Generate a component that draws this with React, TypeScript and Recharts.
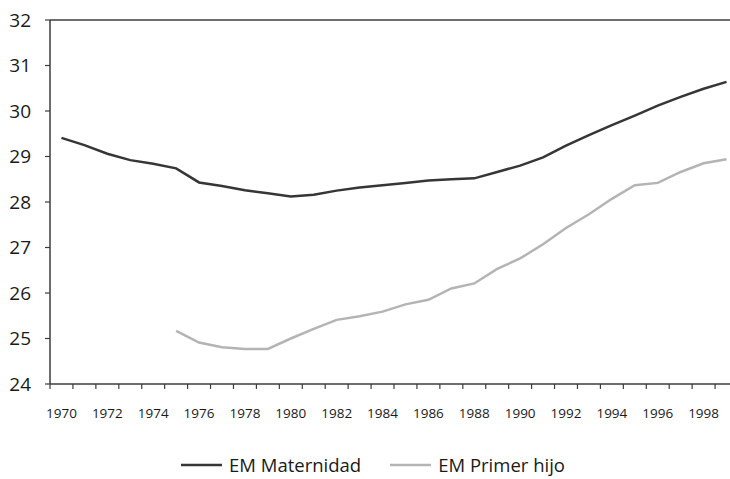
import { CartesianGrid, Legend, Line, LineChart, ReferenceLine, XAxis, YAxis } from 'recharts';

const years = [
  1970, 1971, 1972, 1973, 1974, 1975, 1976, 1977, 1978, 1979,
  1980, 1981, 1982, 1983, 1984, 1985, 1986, 1987, 1988, 1989,
  1990, 1991, 1992, 1993, 1994, 1995, 1996, 1997, 1998, 1999,
];

const emMaternidad = [
  29.41, 29.25, 29.06, 28.92, 28.84, 28.74, 28.43, 28.35, 28.26, 28.19,
  28.12, 28.16, 28.25, 28.32, 28.37, 28.42, 28.47, 28.5, 28.52, 28.66,
  28.8, 28.98, 29.24, 29.47, 29.69, 29.9, 30.12, 30.31, 30.49, 30.64,
];

const emPrimerHijo = [
  null, null, null, null, null, 25.17, 24.91, 24.81, 24.77, 24.77,
  25.0, 25.21, 25.41, 25.49, 25.59, 25.75, 25.85, 26.1, 26.21, 26.53,
  26.76, 27.07, 27.43, 27.73, 28.07, 28.37, 28.42, 28.66, 28.85, 28.94,
];

const yTicks = [24, 25, 26, 27, 28, 29, 30, 31, 32];
const yearLabels = [1970, 1972, 1974, 1976, 1978, 1980, 1982, 1984, 1986, 1988, 1990, 1992, 1994, 1996, 1998];

const DARK = '#363636';
const LIGHT = '#b4b4b4';
const AXIS = '#3c3c3c';
const FONT = '"Open Sans", "DejaVu Sans", sans-serif';

const data = years.map((year, i) => ({
  year,
  maternidad: emMaternidad[i],
  primerHijo: emPrimerHijo[i],
}));

// tick marks sit between the years, labels on every other year
const boundaries = [...years.map((y) => y - 0.5), years[years.length - 1] + 0.5];
const xTicks = [...boundaries, ...yearLabels].sort((a, b) => a - b);

function XTick({ x, y, payload }: any) {
  const v = payload.value as number;
  if (v % 1 !== 0) {
    return <line x1={x} x2={x} y1={y} y2={y + 5} stroke={AXIS} strokeWidth={1.2} />;
  }
  return (
    <text x={x} y={y + 34} textAnchor="middle" fontSize={13.5} fill="#1a1a1a" fontFamily={FONT}>
      {v}
    </text>
  );
}

function LegendContent() {
  const items = [
    { label: 'EM Maternidad', color: DARK },
    { label: 'EM Primer hijo', color: LIGHT },
  ];
  return (
    <div
      style={{
        height: 40,
        paddingTop: 16,
        paddingLeft: 8,
        boxSizing: 'border-box',
        display: 'flex',
        justifyContent: 'center',
        gap: 29,
        fontFamily: FONT,
        fontSize: 18.5,
        color: '#1a1a1a',
      }}
    >
      {items.map((it) => (
        <div key={it.label} style={{ display: 'flex', alignItems: 'center', height: 20, gap: 7 }}>
          <svg width={41} height={4}>
            <line x1={0} x2={41} y1={2} y2={2} stroke={it.color} strokeWidth={2.5} />
          </svg>
          <span style={{ lineHeight: '20px' }}>{it.label}</span>
        </div>
      ))}
    </div>
  );
}

export default function App() {
  return (
    <div style={{ position: 'absolute', left: 0, top: 0, width: 730, height: 479, overflow: 'hidden', background: '#fff' }}>
      <LineChart width={740} height={479} data={data} margin={{ top: 20, right: 2, left: 0, bottom: 0 }}>
        <CartesianGrid horizontal={false} vertical={false} />
        <XAxis
          dataKey="year"
          type="number"
          domain={[1969.5, 1999.5]}
          ticks={xTicks}
          interval={0}
          tick={<XTick />}
          tickLine={false}
          tickSize={0}
          tickMargin={0}
          height={55}
          axisLine={{ stroke: AXIS, strokeWidth: 1.5 }}
        />
        <YAxis
          type="number"
          domain={[24, 32]}
          ticks={yTicks}
          interval={0}
          width={50}
          tickSize={5}
          tickMargin={14}
          tickLine={{ stroke: AXIS, strokeWidth: 1.2 }}
          axisLine={{ stroke: AXIS, strokeWidth: 1.5 }}
          tick={{ fontSize: 19, fill: '#1a1a1a', fontFamily: FONT }}
        />
        <ReferenceLine y={32} stroke={AXIS} strokeWidth={1.5} ifOverflow="extendDomain" />
        <Legend verticalAlign="bottom" content={<LegendContent />} />
        <Line
          dataKey="maternidad"
          type="linear"
          stroke={DARK}
          strokeWidth={2.5}
          dot={false}
          activeDot={false}
          isAnimationActive={false}
        />
        <Line
          dataKey="primerHijo"
          type="linear"
          stroke={LIGHT}
          strokeWidth={2.5}
          dot={false}
          activeDot={false}
          isAnimationActive={false}
        />
      </LineChart>
    </div>
  );
}
